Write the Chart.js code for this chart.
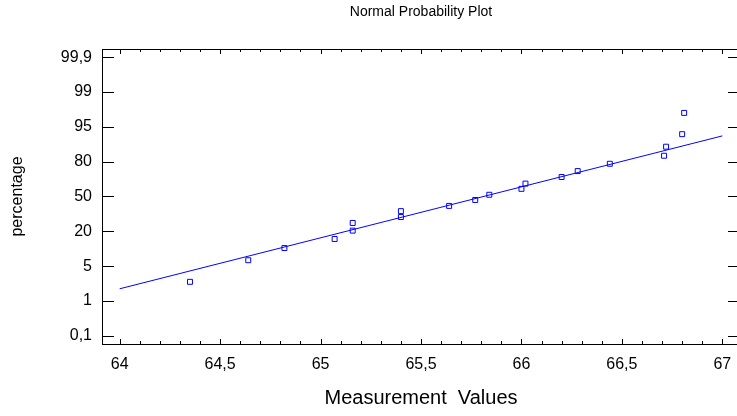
<!DOCTYPE html>
<html>
<head>
    <style>
        html, body {
            margin: 0;
            padding: 0;
            overflow: hidden;
            background-color: #ffffff;
        }
        #chartBox {
            width: 745px;
            height: 416px;
        }
    </style>
</head>
<body>
    <div id="chartBox">
        <canvas id="probPlot" width="745" height="416"></canvas>
    </div>

    <script src="https://cdn.jsdelivr.net/npm/chart.js"></script>
    <script>
// measured values (x) and their plotting position on the probability axis (y, in tick units)
const measurements = [64.35, 64.64, 64.82, 65.07, 65.16, 65.16, 65.40, 65.40, 65.64, 65.77,
                      65.84, 66.00, 66.02, 66.20, 66.28, 66.44, 66.71, 66.72, 66.80, 66.81];
const plotPositions = [1.55, 2.17, 2.52, 2.78, 3.02, 3.24, 3.41, 3.58, 3.73, 3.90,
                       4.05, 4.22, 4.37, 4.56, 4.73, 4.94, 5.17, 5.43, 5.79, 6.40];

// fitted line
const fitX = [64, 67];
const fitY = [1.35, 5.74];

// axis ticks
const percentTickLabels = ['0,1', '1', '5', '20', '50', '80', '95', '99', '99,9'];
const xTickValues = [64, 64.5, 65, 65.5, 66, 66.5, 67];

const blue = '#0000ff';

// box, inward tick marks and the title
const framePlugin = {
    id: 'frame',
    afterDraw(chart) {
        const ctx = chart.ctx;
        const a = chart.chartArea;
        const xs = chart.scales.x, ys = chart.scales.y;
        ctx.save();
        ctx.strokeStyle = '#000';
        ctx.lineWidth = 1;
        ctx.strokeRect(Math.round(a.left) + 0.5, Math.round(a.top) + 0.5,
                       Math.round(a.right - a.left), Math.round(a.bottom - a.top));
        ctx.beginPath();
        // y ticks, both sides
        percentTickLabels.forEach((lbl, i) => {
            const y = Math.round(ys.getPixelForValue(i)) + 0.5;
            ctx.moveTo(a.left, y); ctx.lineTo(a.left + 12, y);
            ctx.moveTo(a.right, y); ctx.lineTo(a.right - 12, y);
        });
        // x ticks, major every 0.5, minor every 0.1
        for (let k = 640; k <= 670; k++) {
            const v = k / 10;
            const len = (k % 5 === 0) ? 5 : 3;
            const x = Math.round(xs.getPixelForValue(v)) + 0.5;
            ctx.moveTo(x, a.top); ctx.lineTo(x, a.top + len);
            ctx.moveTo(x, a.bottom); ctx.lineTo(x, a.bottom - len);
        }
        ctx.stroke();
        // title centred over the plot area
        ctx.fillStyle = '#000';
        ctx.font = '14px "Liberation Sans", Arial, sans-serif';
        ctx.textAlign = 'center';
        ctx.textBaseline = 'middle';
        ctx.fillText('Normal Probability Plot', (a.left + a.right) / 2, 12);
        ctx.restore();
    }
};

const ctx = document.getElementById('probPlot').getContext('2d');
new Chart(ctx, {
    type: 'scatter',
    data: {
        datasets: [{
            data: measurements.map((v, i) => ({ x: v, y: plotPositions[i] })),
            pointStyle: 'rect',
            pointRadius: 3.5,
            pointBorderWidth: 1,
            pointBorderColor: blue,
            pointBackgroundColor: 'rgba(255,255,255,0)',
            showLine: false
        }, {
            type: 'line',
            data: fitX.map((v, i) => ({ x: v, y: fitY[i] })),
            borderColor: blue,
            borderWidth: 1,
            pointRadius: 0,
            fill: false
        }]
    },
    options: {
        responsive: false,
        animation: false,
        layout: { padding: { top: 49, right: 4, bottom: 0, left: 0 } },
        plugins: {
            legend: { display: false },
            tooltip: { enabled: false }
        },
        scales: {
            x: {
                type: 'linear',
                min: 63.912,
                max: 67.088,
                grid: { display: false, drawTicks: false },
                border: { display: false },
                afterBuildTicks: (scale) => { scale.ticks = xTickValues.map(v => ({ value: v })); },
                afterFit: (scale) => { scale.height = 72; scale.paddingLeft = 0; scale.paddingRight = 0; },
                ticks: {
                    padding: 11,
                    color: '#000',
                    maxRotation: 0,
                    font: { size: 16, family: '"Liberation Sans", Arial, sans-serif' },
                    callback: (v) => String(v).replace('.', ',')
                },
                title: {
                    display: true,
                    text: 'Measurement  Values',
                    color: '#000',
                    padding: { top: 0, bottom: 6 },
                    font: { size: 20, family: '"Liberation Sans", Arial, sans-serif' }
                }
            },
            y: {
                type: 'linear',
                min: -0.235,
                max: 8.235,
                grid: { display: false, drawTicks: false },
                border: { display: false },
                afterBuildTicks: (scale) => { scale.ticks = percentTickLabels.map((l, i) => ({ value: i })); },
                afterFit: (scale) => { scale.width = 102; },
                ticks: {
                    padding: 10,
                    color: '#000',
                    font: { size: 16, family: '"Liberation Sans", Arial, sans-serif' },
                    callback: (v) => percentTickLabels[v]
                },
                title: {
                    display: true,
                    text: 'percentage',
                    color: '#000',
                    padding: { top: 8, bottom: 0 },
                    font: { size: 16, family: '"Liberation Sans", Arial, sans-serif' }
                }
            }
        }
    },
    plugins: [framePlugin]
});
    </script>
</body>
</html>
